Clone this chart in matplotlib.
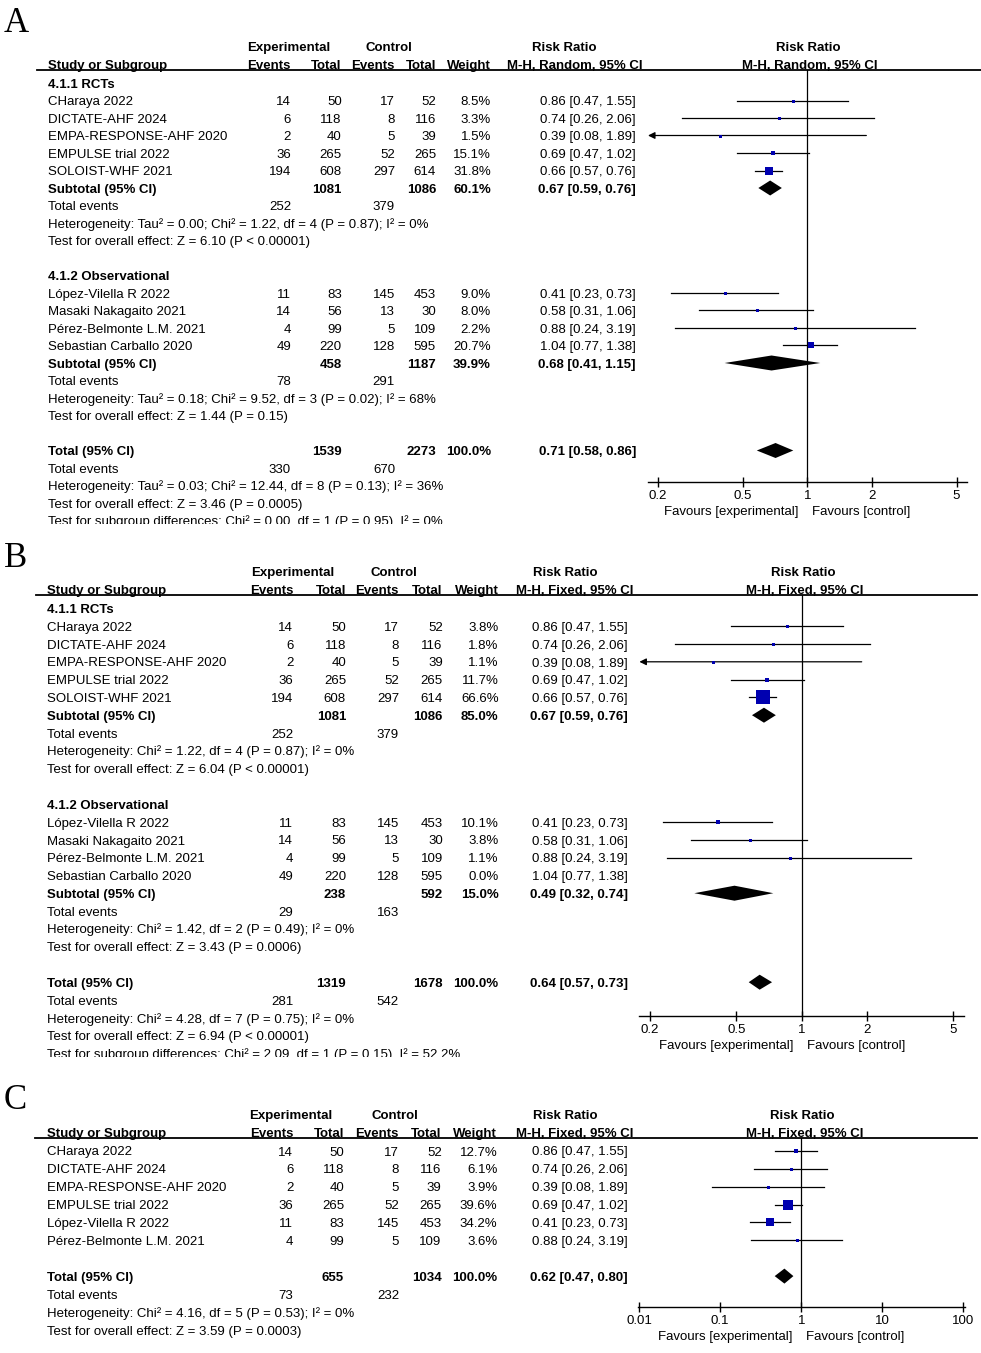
import matplotlib
matplotlib.use('Agg')
import matplotlib.pyplot as plt
from matplotlib.patches import Rectangle
from matplotlib.ticker import FixedLocator, FixedFormatter, NullLocator

plt.rcParams['font.family'] = ['Liberation Sans', 'DejaVu Sans']

# ---------------- data ----------------
group_names = ['4.1.1 RCTs', '4.1.2 Observational']
studies = ['CHaraya 2022', 'DICTATE-AHF 2024', 'EMPA-RESPONSE-AHF 2020', 'EMPULSE trial 2022',
           'SOLOIST-WHF 2021', 'López-Vilella R 2022', 'Masaki Nakagaito 2021',
           'Pérez-Belmonte L.M. 2021', 'Sebastian Carballo 2020']
study_group = [0, 0, 0, 0, 0, 1, 1, 1, 1]
ev_exp = [14, 6, 2, 36, 194, 11, 14, 4, 49]
tot_exp = [50, 118, 40, 265, 608, 83, 56, 99, 220]
ev_ctl = [17, 8, 5, 52, 297, 145, 13, 5, 128]
tot_ctl = [52, 116, 39, 265, 614, 453, 30, 109, 595]
rr = [0.86, 0.74, 0.39, 0.69, 0.66, 0.41, 0.58, 0.88, 1.04]
rr_lo = [0.47, 0.26, 0.08, 0.47, 0.57, 0.23, 0.31, 0.24, 0.77]
rr_hi = [1.55, 2.06, 1.89, 1.02, 0.76, 0.73, 1.06, 3.19, 1.38]

weights_A = [8.5, 3.3, 1.5, 15.1, 31.8, 9.0, 8.0, 2.2, 20.7]
weights_B = [3.8, 1.8, 1.1, 11.7, 66.6, 10.1, 3.8, 1.1, 0.0]

# summaries: [subgroup 1, subgroup 2, overall]
sum_tot_exp_A = [1081, 458, 1539]
sum_tot_ctl_A = [1086, 1187, 2273]
sum_ev_exp_A = [252, 78, 330]
sum_ev_ctl_A = [379, 291, 670]
sum_wt_A = [60.1, 39.9, 100.0]
sum_rr_A = [0.67, 0.68, 0.71]
sum_lo_A = [0.59, 0.41, 0.58]
sum_hi_A = [0.76, 1.15, 0.86]
het_A = ['Heterogeneity: Tau² = 0.00; Chi² = 1.22, df = 4 (P = 0.87); I² = 0%',
         'Heterogeneity: Tau² = 0.18; Chi² = 9.52, df = 3 (P = 0.02); I² = 68%',
         'Heterogeneity: Tau² = 0.03; Chi² = 12.44, df = 8 (P = 0.13); I² = 36%']
eff_A = ['Test for overall effect: Z = 6.10 (P < 0.00001)',
         'Test for overall effect: Z = 1.44 (P = 0.15)',
         'Test for overall effect: Z = 3.46 (P = 0.0005)']
subdiff_A = 'Test for subgroup differences: Chi² = 0.00, df = 1 (P = 0.95), I² = 0%'

sum_tot_exp_B = [1081, 238, 1319]
sum_tot_ctl_B = [1086, 592, 1678]
sum_ev_exp_B = [252, 29, 281]
sum_ev_ctl_B = [379, 163, 542]
sum_wt_B = [85.0, 15.0, 100.0]
sum_rr_B = [0.67, 0.49, 0.64]
sum_lo_B = [0.59, 0.32, 0.57]
sum_hi_B = [0.76, 0.74, 0.73]
het_B = ['Heterogeneity: Chi² = 1.22, df = 4 (P = 0.87); I² = 0%',
         'Heterogeneity: Chi² = 1.42, df = 2 (P = 0.49); I² = 0%',
         'Heterogeneity: Chi² = 4.28, df = 7 (P = 0.75); I² = 0%']
eff_B = ['Test for overall effect: Z = 6.04 (P < 0.00001)',
         'Test for overall effect: Z = 3.43 (P = 0.0006)',
         'Test for overall effect: Z = 6.94 (P < 0.00001)']
subdiff_B = 'Test for subgroup differences: Chi² = 2.09, df = 1 (P = 0.15), I² = 52.2%'

studies_C = ['CHaraya 2022', 'DICTATE-AHF 2024', 'EMPA-RESPONSE-AHF 2020', 'EMPULSE trial 2022',
             'López-Vilella R 2022', 'Pérez-Belmonte L.M. 2021']
ev_exp_C = [14, 6, 2, 36, 11, 4]
tot_exp_C = [50, 118, 40, 265, 83, 99]
ev_ctl_C = [17, 8, 5, 52, 145, 5]
tot_ctl_C = [52, 116, 39, 265, 453, 109]
rr_C = [0.86, 0.74, 0.39, 0.69, 0.41, 0.88]
lo_C = [0.47, 0.26, 0.08, 0.47, 0.23, 0.24]
hi_C = [1.55, 2.06, 1.89, 1.02, 0.73, 3.19]
weights_C = [12.7, 6.1, 3.9, 39.6, 34.2, 3.6]
total_C = dict(tot_exp=655, tot_ctl=1034, ev_exp=73, ev_ctl=232, wt=100.0, rr=0.62, lo=0.47, hi=0.80)
het_C = 'Heterogeneity: Chi² = 4.16, df = 5 (P = 0.53); I² = 0%'
eff_C = 'Test for overall effect: Z = 3.59 (P = 0.0003)'

ticks_AB = [0.2, 0.5, 1, 2, 5]
ticks_C = [0.01, 0.1, 1, 10, 100]

# ---------------- layout ----------------
W, H = 981, 1353
FS = 9.5
BLUE = '#0000B0'
fig = plt.figure(figsize=(W / 100, H / 100), dpi=100)
bg = fig.add_axes([0, 0, 1, 1])
bg.set_xlim(0, W)
bg.set_ylim(H, 0)
bg.axis('off')


def txt(x, y, s, ha='left', bold=False, clip=None):
    t = bg.text(x, y + 4.7, s, ha=ha, va='baseline', fontsize=FS,
                fontweight='bold' if bold else 'normal')
    if clip is not None:
        # the source image cuts this last line off at the panel edge
        t.set_clip_on(True)
        t.set_clip_path(Rectangle((0, 0), W, clip, transform=bg.transData))
    return t


def header(p):
    ly = p['line_y']
    c = p['cols']
    bg.plot([p['line_x0'], p['line_x1']], [ly, ly], color='k', lw=1.3)
    y1 = ly - 23.5
    y2 = ly - 5.5
    txt(p['exp_c'], y1, 'Experimental', ha='center', bold=True)
    txt(p['ctl_c'], y1, 'Control', ha='center', bold=True)
    txt(p['rrh'][0], y1, 'Risk Ratio', ha='center', bold=True)
    txt(p['fh'][0], y1, 'Risk Ratio', ha='center', bold=True)
    txt(p['name_x'], y2, 'Study or Subgroup', bold=True)
    for x, s in zip(c[:5], ['Events', 'Total', 'Events', 'Total', 'Weight']):
        txt(x, y2, s, ha='right', bold=True)
    txt(p['rrh'][1], y2, p['method'], ha='center', bold=True)
    txt(p['fh'][1], y2, p['method'], ha='center', bold=True)
    bg.text(4, p['letter_y'], p['letter'], family='Liberation Serif', fontsize=25,
            ha='left', va='baseline')


def forest_axes(p, ticks):
    x0, x1 = p['fx']
    top, bot = p['line_y'], p['axis_y']
    ax = fig.add_axes([x0 / W, 1 - bot / H, (x1 - x0) / W, (bot - top) / H])
    ax.set_xscale('log')
    ax.set_xlim(p['xlim'])
    ax.set_ylim((bot - p['r0']) / p['sp'], (top - p['r0']) / p['sp'])
    ax.patch.set_visible(False)
    for s in ['top', 'left', 'right']:
        ax.spines[s].set_visible(False)
    ax.spines['bottom'].set_linewidth(1.0)
    ax.xaxis.set_major_locator(FixedLocator(ticks))
    ax.xaxis.set_major_formatter(FixedFormatter([f'{t:g}' for t in ticks]))
    ax.xaxis.set_minor_locator(NullLocator())
    ax.tick_params(axis='x', direction='inout', length=7, width=1, pad=2.5, labelsize=FS)
    ax.set_yticks([])
    ax.axvline(1, color='k', lw=0.9)
    ax.annotate('Favours [experimental]', xy=(1, 0), xycoords=('data', 'axes fraction'),
                xytext=(-6, -21.3), textcoords='offset points', ha='right', va='center', fontsize=FS)
    ax.annotate('Favours [control]', xy=(1, 0), xycoords=('data', 'axes fraction'),
                xytext=(3.6, -21.3), textcoords='offset points', ha='left', va='center', fontsize=FS)
    return ax


def draw_study(ax, i, r, lo, hi, w):
    if w <= 0:
        return
    xl = ax.get_xlim()[0]
    if lo < xl:
        ax.annotate('', xy=(xl, i), xytext=(hi, i),
                    arrowprops=dict(arrowstyle='-|>', color='k', lw=0.9, mutation_scale=10,
                                    shrinkA=0, shrinkB=0))
    else:
        ax.plot([lo, hi], [i, i], color='k', lw=0.9)
    side = max(3.0, 7.7 * (w / 31.8) ** 0.78) * 0.72
    ax.plot([r], [i], marker='s', ms=side, color=BLUE, mew=0, zorder=3)


def draw_diamond(ax, i, r, lo, hi, p):
    h = 7.5 / p['sp']
    ax.fill([lo, r, hi, r], [i, i - h, i, i + h], color='k', lw=0, zorder=3)


def rr_str(r, lo, hi):
    return f'{r:.2f} [{lo:.2f}, {hi:.2f}]'


def grouped_panel(p, weights, s_te, s_tc, s_ee, s_ec, s_wt, s_rr, s_lo, s_hi, het, eff, subdiff):
    header(p)
    ax = forest_axes(p, ticks_AB)
    c = p['cols']
    Y = lambda i: p['r0'] + p['sp'] * i
    row = 0
    for g in range(2):
        txt(p['name_x'], Y(row), group_names[g], bold=True)
        row += 1
        for k in [k for k in range(len(studies)) if study_group[k] == g]:
            y = Y(row)
            txt(p['name_x'], y, studies[k])
            for x, v in zip(c[:4], [ev_exp[k], tot_exp[k], ev_ctl[k], tot_ctl[k]]):
                txt(x, y, str(v), ha='right')
            txt(c[4], y, f'{weights[k]:.1f}%', ha='right')
            txt(c[5], y, rr_str(rr[k], rr_lo[k], rr_hi[k]), ha='right')
            draw_study(ax, row, rr[k], rr_lo[k], rr_hi[k], weights[k])
            row += 1
        y = Y(row)
        txt(p['name_x'], y, 'Subtotal (95% CI)', bold=True)
        txt(c[1], y, str(s_te[g]), ha='right', bold=True)
        txt(c[3], y, str(s_tc[g]), ha='right', bold=True)
        txt(c[4], y, f'{s_wt[g]:.1f}%', ha='right', bold=True)
        txt(c[5], y, rr_str(s_rr[g], s_lo[g], s_hi[g]), ha='right', bold=True)
        draw_diamond(ax, row, s_rr[g], s_lo[g], s_hi[g], p)
        row += 1
        txt(p['name_x'], Y(row), 'Total events')
        txt(c[0], Y(row), str(s_ee[g]), ha='right')
        txt(c[2], Y(row), str(s_ec[g]), ha='right')
        txt(p['name_x'], Y(row + 1), het[g])
        txt(p['name_x'], Y(row + 2), eff[g])
        row += 4
    y = Y(row)
    txt(p['name_x'], y, 'Total (95% CI)', bold=True)
    txt(c[1], y, str(s_te[2]), ha='right', bold=True)
    txt(c[3], y, str(s_tc[2]), ha='right', bold=True)
    txt(c[4], y, f'{s_wt[2]:.1f}%', ha='right', bold=True)
    txt(c[5], y, rr_str(s_rr[2], s_lo[2], s_hi[2]), ha='right', bold=True)
    draw_diamond(ax, row, s_rr[2], s_lo[2], s_hi[2], p)
    txt(p['name_x'], Y(row + 1), 'Total events')
    txt(c[0], Y(row + 1), str(s_ee[2]), ha='right')
    txt(c[2], Y(row + 1), str(s_ec[2]), ha='right')
    txt(p['name_x'], Y(row + 2), het[2])
    txt(p['name_x'], Y(row + 3), eff[2])
    txt(p['name_x'], Y(row + 4), subdiff, clip=p['clip'])


panel_A = dict(letter='A', letter_y=32, r0=83, sp=17.5, line_y=70, line_x0=37, line_x1=981,
               name_x=48, cols=(291, 341.7, 395, 436, 491, 636), exp_c=289, ctl_c=389,
               rrh=(564, 575), fh=(808, 810), method='M-H, Random, 95% CI',
               fx=(648, 966.6), axis_y=482, xlim=(10 ** -0.746, 10 ** 0.746), clip=524)
panel_B = dict(letter='B', letter_y=567, r0=608.4, sp=17.8, line_y=595, line_x0=36, line_x1=977,
               name_x=47, cols=(293.3, 346, 399, 442.8, 498.7, 628), exp_c=293, ctl_c=394,
               rrh=(565, 575), fh=(803, 805), method='M-H, Fixed, 95% CI',
               fx=(639.4, 964), axis_y=1016, xlim=(10 ** -0.748, 10 ** 0.748), clip=1057)
panel_C = dict(letter='C', letter_y=1109, r0=1150.8, sp=17.9, line_y=1138, line_x0=35, line_x1=977,
               name_x=47, cols=(293.3, 344, 399, 441.7, 497.3, 628), exp_c=291, ctl_c=394.5,
               rrh=(565, 575), fh=(802.5, 804.5), method='M-H, Fixed, 95% CI',
               fx=(638, 964.5), axis_y=1307, xlim=(10 ** -2.015, 10 ** 2.015))

grouped_panel(panel_A, weights_A, sum_tot_exp_A, sum_tot_ctl_A, sum_ev_exp_A, sum_ev_ctl_A,
              sum_wt_A, sum_rr_A, sum_lo_A, sum_hi_A, het_A, eff_A, subdiff_A)
grouped_panel(panel_B, weights_B, sum_tot_exp_B, sum_tot_ctl_B, sum_ev_exp_B, sum_ev_ctl_B,
              sum_wt_B, sum_rr_B, sum_lo_B, sum_hi_B, het_B, eff_B, subdiff_B)

# panel C (no subgroups)
p = panel_C
header(p)
axC = forest_axes(p, ticks_C)
c = p['cols']
Yc = lambda i: p['r0'] + p['sp'] * i
for k in range(len(studies_C)):
    y = Yc(k)
    txt(p['name_x'], y, studies_C[k])
    for x, v in zip(c[:4], [ev_exp_C[k], tot_exp_C[k], ev_ctl_C[k], tot_ctl_C[k]]):
        txt(x, y, str(v), ha='right')
    txt(c[4], y, f'{weights_C[k]:.1f}%', ha='right')
    txt(c[5], y, rr_str(rr_C[k], lo_C[k], hi_C[k]), ha='right')
    draw_study(axC, k, rr_C[k], lo_C[k], hi_C[k], weights_C[k])
row = len(studies_C) + 1
y = Yc(row)
txt(p['name_x'], y, 'Total (95% CI)', bold=True)
txt(c[1], y, str(total_C['tot_exp']), ha='right', bold=True)
txt(c[3], y, str(total_C['tot_ctl']), ha='right', bold=True)
txt(c[4], y, f"{total_C['wt']:.1f}%", ha='right', bold=True)
txt(c[5], y, rr_str(total_C['rr'], total_C['lo'], total_C['hi']), ha='right', bold=True)
draw_diamond(axC, row, total_C['rr'], total_C['lo'], total_C['hi'], p)
txt(p['name_x'], Yc(row + 1), 'Total events')
txt(c[0], Yc(row + 1), str(total_C['ev_exp']), ha='right')
txt(c[2], Yc(row + 1), str(total_C['ev_ctl']), ha='right')
txt(p['name_x'], Yc(row + 2), het_C)
txt(p['name_x'], Yc(row + 3), eff_C)

fig.savefig('out.png', dpi=100)
